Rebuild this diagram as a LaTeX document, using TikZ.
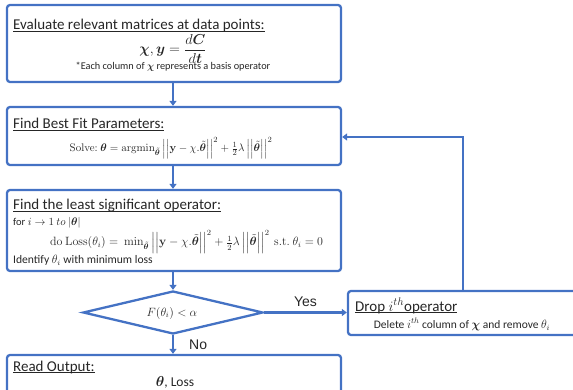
\documentclass[tikz,border=0pt]{standalone}
\usepackage{amsmath,bm}
\usepackage[no-math]{fontspec}
\setmainfont{Carlito}
\newfontfamily\labfont{Liberation Sans}
\usetikzlibrary{shapes.geometric,arrows.meta}
\definecolor{flow}{HTML}{4472C4}
\definecolor{txt}{HTML}{262626}
\newsavebox\myulbox
\newcommand\myul[1]{\sbox\myulbox{#1}\rlap{\rule[-2pt]{\wd\myulbox}{0.7pt}}\usebox\myulbox}
\tikzset{
  stepbox/.style={draw=flow, line width=2.3pt, rounded corners=3pt, rectangle, inner sep=0pt},
  decision/.style={draw=flow, line width=2.3pt, diamond, inner sep=0pt},
  link/.style={draw=flow, line width=2.3pt, -{Triangle[length=5pt,width=7pt]}},
  title/.style={anchor=base west, text=txt, font=\fontsize{15}{17}\selectfont, inner sep=0pt},
  body/.style={text=txt, font=\fontsize{11.3}{13}\selectfont, inner sep=0pt},
  small/.style={text=txt, font=\fontsize{10.3}{12}\selectfont, inner sep=0pt},
  lab/.style={text=txt, font=\labfont\fontsize{14}{16}\selectfont, inner sep=0pt}
}
\begin{document}
\begin{tikzpicture}[x=1pt,y=-1pt]
\useasboundingbox (0,0) rectangle (573,390);
\clip (0,0) rectangle (573,390);
% boxes
\node[stepbox, minimum width=334pt, minimum height=77pt] (b1) at (174,43.5) {};
\node[stepbox, minimum width=334pt, minimum height=58pt] (b2) at (174,136) {};
\node[stepbox, minimum width=334pt, minimum height=81pt] (b3) at (174,230.5) {};
\node[decision, minimum width=180pt, minimum height=43pt] (d) at (173,312.5) {};
\node[stepbox, minimum width=230pt, minimum height=44pt] (drop) at (463,313) {};
\node[stepbox, minimum width=334pt, minimum height=56pt] (out) at (174,383) {};
% box 1 text
\node[title] (t1) at (13,30) {\myul{Evaluate relevant matrices at data points:}};
\node[body, font=\fontsize{14}{16}\selectfont] (f1) at (173,49) {$\bm{\chi}, \bm{y} = \dfrac{d\bm{C}}{d\bm{t}}$};
\node[small] (n1) at (173,67) {*Each column of $\bm{\chi}$ represents a basis operator};
% box 2 text
\node[title] (t2) at (13,129) {\myul{Find Best Fit Parameters:}};
\node[body] (f2) at (171,148) {$\mathrm{Solve{:}}\ \bm{\theta} = \operatorname{argmin}_{\tilde{\bm{\theta}}} \left|\left|\mathbf{y} - \chi.\tilde{\bm{\theta}}\right|\right|^2 + \tfrac{1}{2}\lambda\left|\left|\tilde{\bm{\theta}}\right|\right|^2$};
% box 3 text
\node[title] (t3) at (13,210) {\myul{Find the least significant operator:}};
\node[body, anchor=west, font=\fontsize{10.5}{12}\selectfont] (f3a) at (13,222.5) {for $i \rightarrow 1\ to\ |\bm{\theta}|$};
\node[body, anchor=west, font=\fontsize{11.6}{13}\selectfont] (f3b) at (50,242) {$\mathrm{do\ Loss}(\theta_i) =\ \min_{\tilde{\bm{\theta}}} \left|\left|\mathbf{y} - \chi.\tilde{\bm{\theta}}\right|\right|^2 + \tfrac{1}{2}\lambda\left|\left|\tilde{\bm{\theta}}\right|\right|^2 \mathrm{\ s.t.\ } \theta_i = 0$};
\node[body, anchor=west, font=\fontsize{11.6}{13}\selectfont] (f3c) at (13,260) {Identify $\theta_i$ with minimum loss};
% decision text
\node[body, font=\fontsize{12}{14}\selectfont] (fd) at (172,313) {$F(\theta_i) < \alpha$};
% drop text
\node[title] (t4) at (355,311) {\myul{Drop $i^{th}$operator}};
\node[small, font=\fontsize{11.5}{13}\selectfont] (n4) at (462,324.5) {Delete $i^{th}$ column of $\bm{\chi}$ and remove $\theta_i$};
% output text
\node[title] (t5) at (13,371) {\myul{Read Output:}};
\node[body, font=\fontsize{13.5}{15}\selectfont] (n5) at (175,382.5) {$\bm{\theta}$, Loss};
% connectors
\draw[link] (b1.south -| 173,0) -- (b2.north -| 173,0);
\draw[link] (b2.south -| 173,0) -- (b3.north -| 173,0);
\draw[link] (b3.south -| 173,0) -- (d.north);
\draw[link] (d.east) -- (drop.west |- d.east) node[lab, pos=0.5, above=5pt] (yes) {Yes};
\draw[link] (d.south) -- (out.north -| d.south) node[lab, pos=0.5, right=15pt] (no) {No};
\coordinate (turn) at (463,137);
\draw[link] (drop.north) -- (turn) -- (b2.east |- turn);
\end{tikzpicture}
\end{document}
